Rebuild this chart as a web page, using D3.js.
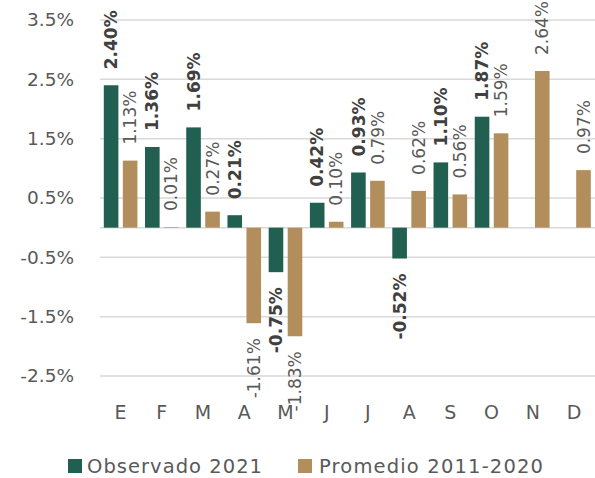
<!DOCTYPE html>
<html><head><meta charset="utf-8">
<script src="https://cdn.jsdelivr.net/npm/d3@7"></script>
<style>body{margin:0;background:#fff}svg{display:block}</style>
</head><body>
<svg id="c" width="595" height="478"></svg>
<script>
const months = ["E","F","M","A","M","J","J","A","S","O","N","D"];
const observado = [2.40, 1.36, 1.69, 0.21, -0.75, 0.42, 0.93, -0.52, 1.10, 1.87, null, null];
const promedio = [1.13, 0.01, 0.27, -1.61, -1.83, 0.10, 0.79, 0.62, 0.56, 1.59, 2.64, 0.97];
const seriesNames = ["Observado 2021", "Promedio 2011-2020"];
const yTicks = [3.5, 2.5, 1.5, 0.5, -0.5, -1.5, -2.5];

const colors = ["#215F50", "#B38E5D"];
const font = "'DejaVu Sans', sans-serif";
const svg = d3.select("#c");

const x0 = d3.scaleBand().domain(d3.range(months.length)).range([100, 594.6]).padding(0);
const x1 = d3.scaleBand().domain([0, 1]).range([0, x0.bandwidth()]).paddingInner(0.232).paddingOuter(0.2);
const y = d3.scaleLinear().domain([-2.5, 3.5]).range([376, 20]);

// gridlines
svg.append("g").selectAll("line").data(yTicks).join("line")
  .attr("x1", 100).attr("x2", 595)
  .attr("y1", d => y(d)).attr("y2", d => y(d))
  .attr("stroke", "#d9d9d9").attr("stroke-width", 1.5);
svg.append("line").attr("x1", 100).attr("x2", 595).attr("y1", y(0)).attr("y2", y(0))
  .attr("stroke", "#d9d9d9").attr("stroke-width", 1.5);

// y tick labels
svg.append("g").selectAll("text").data(yTicks).join("text")
  .attr("x", 74).attr("y", d => y(d)).attr("dy", "0.35em")
  .attr("text-anchor", "end").attr("font-family", font).attr("font-size", 18.5)
  .attr("fill", "#595959").text(d => d3.format(".1f")(d).replace("−", "-") + "%");

// x labels
svg.append("g").selectAll("text").data(months).join("text")
  .attr("x", (d, i) => x0(i) + x0.bandwidth() / 2).attr("y", 419)
  .attr("text-anchor", "middle").attr("font-family", font).attr("font-size", 19)
  .attr("fill", "#595959").text(d => d);

const data = [];
[observado, promedio].forEach((arr, s) => arr.forEach((v, i) => { if (v !== null) data.push({i, s, v}); }));

// bars
svg.append("g").selectAll("rect").data(data).join("rect")
  .attr("x", d => x0(d.i) + x1(d.s)).attr("width", x1.bandwidth())
  .attr("y", d => y(Math.max(0, d.v))).attr("height", d => Math.abs(y(d.v) - y(0)))
  .attr("fill", d => colors[d.s]);

// labels
svg.append("g").selectAll("text").data(data).join("text")
  .attr("transform", d => {
    const cx = x0(d.i) + x1(d.s) + x1.bandwidth() / 2;
    const yy = d.v >= 0 ? y(d.v) - 16 : y(d.v) + 15;
    return `translate(${cx},${yy}) rotate(-90)`;
  })
  .attr("dy", "0.36em")
  .attr("text-anchor", d => d.v >= 0 ? "start" : "end")
  .attr("font-family", font).attr("font-size", 17)
  .attr("font-weight", d => d.s === 0 ? "bold" : "normal")
  .attr("fill", d => d.s === 0 ? "#404040" : "#595959")
  .text(d => d3.format(".2f")(d.v).replace("−", "-") + "%");

// legend
const leg = [{x: 68, tx: 87, w: 175}, {x: 298, tx: 319, w: 224}];
seriesNames.forEach((n, s) => {
  svg.append("rect").attr("x", leg[s].x).attr("y", 459).attr("width", 14).attr("height", 14).attr("fill", colors[s]);
  svg.append("text").attr("x", leg[s].tx).attr("y", 473).attr("font-family", font).attr("font-size", 19.5)
    .attr("textLength", leg[s].w).attr("lengthAdjust", "spacing")
    .attr("fill", "#595959").text(n);
});
</script>
</body></html>
